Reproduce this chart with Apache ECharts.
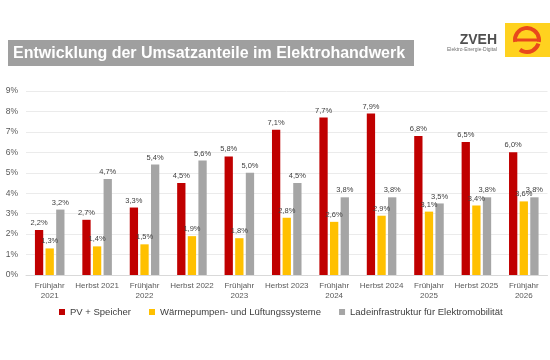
<!DOCTYPE html>
<html><head><meta charset="utf-8">
<script src="https://cdn.jsdelivr.net/npm/echarts@6/dist/echarts.min.js"></script>
<style>html,body{margin:0;padding:0;background:#fff}#c{width:550px;height:360px}</style>
</head><body><div id="c"></div>
<script>
const categories = ['Frühjahr\n2021','Herbst 2021','Frühjahr\n2022','Herbst 2022','Frühjahr\n2023','Herbst 2023','Frühjahr\n2024','Herbst 2024','Frühjahr\n2025','Herbst 2025','Frühjahr\n2026'];
const pvSpeicher = [2.2, 2.7, 3.3, 4.5, 5.8, 7.1, 7.7, 7.9, 6.8, 6.5, 6.0];
const waermepumpen = [1.3, 1.4, 1.5, 1.9, 1.8, 2.8, 2.6, 2.9, 3.1, 3.4, 3.6];
const ladeinfra = [3.2, 4.7, 5.4, 5.6, 5.0, 4.5, 3.8, 3.8, 3.5, 3.8, 3.8];
const seriesNames = ['PV + Speicher', 'Wärmepumpen- und Lüftungssysteme', 'Ladeinfrastruktur für Elektromobilität'];
const yTicks = [0, 9, 1];
const title = 'Entwicklung der Umsatzanteile im Elektrohandwerk';

const colors = ['#C00000', '#FFC000', '#A5A5A5'];
const font = 'Liberation Sans, Arial, sans-serif';
const fmt = v => String(v.toFixed(1)).replace('.', ',') + '%';
function bar(name, data, color) {
  return {
    name, type: 'bar', data, barWidth: 8.3, barGap: '28%',
    itemStyle: { color },
    label: { show: true, position: 'top', distance: 3, fontSize: 7.5, fontFamily: font, color: '#404040',
      formatter: p => fmt(p.value) }
  };
}
const chart = echarts.init(document.getElementById('c'), null, { renderer: 'canvas' });
chart.setOption({
  animation: false,
  color: colors,
  grid: { left: 26, right: 2.5, top: 91, height: 184 },
  xAxis: {
    type: 'category', data: categories,
    axisTick: { show: false },
    axisLine: { lineStyle: { color: '#D9D9D9' } },
    axisLabel: { fontSize: 8, fontFamily: font, color: '#595959', lineHeight: 10, margin: 6, interval: 0 }
  },
  yAxis: {
    type: 'value', min: yTicks[0], max: yTicks[1], interval: yTicks[2],
    axisLine: { show: false }, axisTick: { show: false },
    splitLine: { lineStyle: { color: '#EBEBEB' } },
    axisLabel: { formatter: '{value}%', fontSize: 8.5, fontFamily: font, color: '#595959', margin: 8 }
  },
  legend: {
    data: seriesNames, left: 54, top: 302, itemWidth: 6, itemHeight: 6, itemGap: 18,
    icon: 'rect',
    textStyle: { fontSize: 9.5, fontFamily: font, color: '#404040' }
  },
  series: [
    bar(seriesNames[0], pvSpeicher, colors[0]),
    bar(seriesNames[1], waermepumpen, colors[1]),
    bar(seriesNames[2], ladeinfra, colors[2])
  ],
  graphic: [
    { type: 'rect', shape: { x: 8, y: 40, width: 406, height: 26 }, style: { fill: '#9F9F9F' } },
    { type: 'text', style: { x: 13, y: 54, text: title, fill: '#fff', font: 'bold 16px ' + font, textVerticalAlign: 'middle' } },
    { type: 'text', style: { x: 497, y: 40, text: 'ZVEH', fill: '#505050', font: 'bold 14px ' + font, textAlign: 'right', textVerticalAlign: 'middle' } },
    { type: 'text', style: { x: 497, y: 50, text: 'Elektro·Energie·Digital', fill: '#707070', font: '5px ' + font, textAlign: 'right', textVerticalAlign: 'middle' } },
    { type: 'rect', shape: { x: 505, y: 23, width: 45, height: 34 }, style: { fill: '#FFD21F' } },
    { type: 'arc', shape: { cx: 527, cy: 40, r: 12, startAngle: Math.PI * 0.95, endAngle: Math.PI * 2.05 }, style: { stroke: '#E8481C', lineWidth: 4, fill: null } },
    { type: 'line', shape: { x1: 516, y1: 40, x2: 538, y2: 40 }, style: { stroke: '#E8481C', lineWidth: 3 } },
    { type: 'arc', shape: { cx: 527, cy: 40, r: 12, startAngle: Math.PI * 0.1, endAngle: Math.PI * 0.7 }, style: { stroke: '#E8481C', lineWidth: 4, fill: null } }
  ]
});
</script></body></html>
